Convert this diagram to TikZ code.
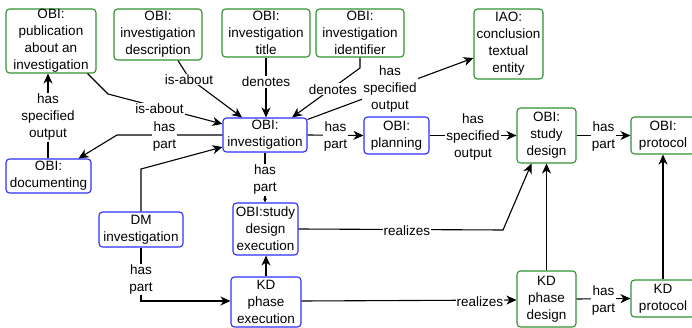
\documentclass[tikz,border=0pt]{standalone}
\usepackage{fontspec}
\setmainfont{Liberation Sans}
\usetikzlibrary{arrows.meta,calc}
\definecolor{gbox}{RGB}{50,145,50}
\definecolor{bbox}{RGB}{45,45,255}
\begin{document}
\begin{tikzpicture}[x=1pt,y=-1pt,
  box/.style={draw, line width=1.1pt, rounded corners=3.5pt, align=center, inner sep=0pt, fill=white,
    font=\fontsize{13.5}{17}\selectfont},
  gb/.style={box, draw=gbox},
  bb/.style={box, draw=bbox},
  arr/.style={line width=1.1pt, -{Stealth[length=10pt,width=9pt,inset=3pt]}},
  lab/.style={fill=white, inner sep=1pt, align=center, yshift=-1.5pt, font=\fontsize{13.5}{17}\selectfont}]
\useasboundingbox (0,0) rectangle (692,328);
\clip (0,0) rectangle (692,328);
% nodes
\node[gb, minimum width=90pt, minimum height=64pt] (pub) at (51,41) {OBI:\\publication\\about an\\investigation};
\node[gb, minimum width=88pt, minimum height=51pt] (desc) at (158,34.5) {OBI:\\investigation\\description};
\node[gb, minimum width=88pt, minimum height=48pt] (title) at (266,33) {OBI:\\investigation\\title};
\node[gb, minimum width=88pt, minimum height=48pt] (ident) at (360,33) {OBI:\\investigation\\identifier};
\node[gb, minimum width=69pt, minimum height=70pt] (iao) at (508.5,44) {IAO:\\conclusion\\textual\\entity};
\node[bb, minimum width=84pt, minimum height=34pt] (inv) at (265,135) {OBI:\\investigation};
\node[bb, minimum width=65pt, minimum height=37pt] (plan) at (396.5,135.5) {OBI:\\planning};
\node[gb, minimum width=59pt, minimum height=55pt] (sd) at (546.5,135.5) {OBI:\\study\\design};
\node[gb, minimum width=64pt, minimum height=37pt] (prot) at (663,135.5) {OBI:\\protocol};
\node[bb, minimum width=85pt, minimum height=34pt] (doc) at (48.5,176) {OBI:\\documenting};
\node[bb, minimum width=84pt, minimum height=35pt] (dm) at (141,229.5) {DM\\investigation};
\node[bb, minimum width=65pt, minimum height=52pt] (sde) at (265.5,229) {OBI:study\\design\\execution};
\node[bb, minimum width=70pt, minimum height=50pt] (kdpe) at (266,302) {KD\\phase\\execution};
\node[gb, minimum width=59pt, minimum height=56pt] (kdpd) at (546.5,299) {KD\\phase\\design};
\node[gb, minimum width=64pt, minimum height=37pt] (kdprot) at (663,298.5) {KD\\protocol};
% connectors
\draw[arr] ($(desc.south)+(20,0)$) -- (189,78) node[lab] {is-about} -- ($(inv.north)+(-23,0)$);
\draw[arr] (title.south) -- node[lab, pos=0.38] {denotes} (inv.north -| title.south);
\draw[arr] (ident.south) -- (360,68) -- node[lab, pos=0.4] {denotes} ($(inv.north)+(27,0)$);
\draw[arr] ($(inv.north east)+(0,2)$) -- ($(iao.west)+(0,14)$);
\node[lab] (hsoa) at (390,88) {has\\specified\\output};
\draw[arr] ($(pub.south east)+(-9,0)$) -- (108,94) -- node[lab, pos=0.45] {is-about} ($(inv.west)+(0,-11)$);
\draw[arr] (doc.north -| 48,0) -- node[lab] {has\\specified\\output} (pub.south -| 48,0);
\draw[arr] (inv.west) -- node[lab, pos=0.55] {has\\part} (117,135) -- ($(doc.north east)+(-13,0)$);
\draw[arr] (dm.north) -- (141,169) -- ($(inv.west)+(0,12)$);
\draw[line width=1.1pt, -{Stealth[length=4pt,width=4pt,inset=1pt]}] (inv.south) -- node[lab, pos=0.52] {has\\part} (sde.north -| inv.south);
\draw[arr] (inv.east) -- node[lab] {has\\part} (plan.west);
\draw[arr] (plan.east) -- node[lab, pos=0.5] {has\\specified\\output} (sd.west);
\draw[arr] (sd.east) -- node[lab] {has\\part} (prot.west);
\draw[arr] (sde.east) -- node[lab, pos=0.53] {realizes} (503,230) -- ($(sd.south)+(-15,0)$);
\draw[arr] (kdpd.north) -- (sd.south);
\draw[arr] ($(kdpe.east)+(0,-1)$) -- node[lab, pos=0.83] {realizes} ($(kdpd.west)+(0,1)$);
\draw[arr] (kdpd.east) -- node[lab] {has\\part} (kdprot.west);
\draw[arr] (kdprot.north) -- (prot.south);
\draw[arr] (kdpe.north) -- (sde.south -| kdpe.north);
\draw[arr] (dm.south) -- node[lab, pos=0.57] {has\\part} (141,301) -- (kdpe.west |- 0,301);
\end{tikzpicture}
\end{document}
